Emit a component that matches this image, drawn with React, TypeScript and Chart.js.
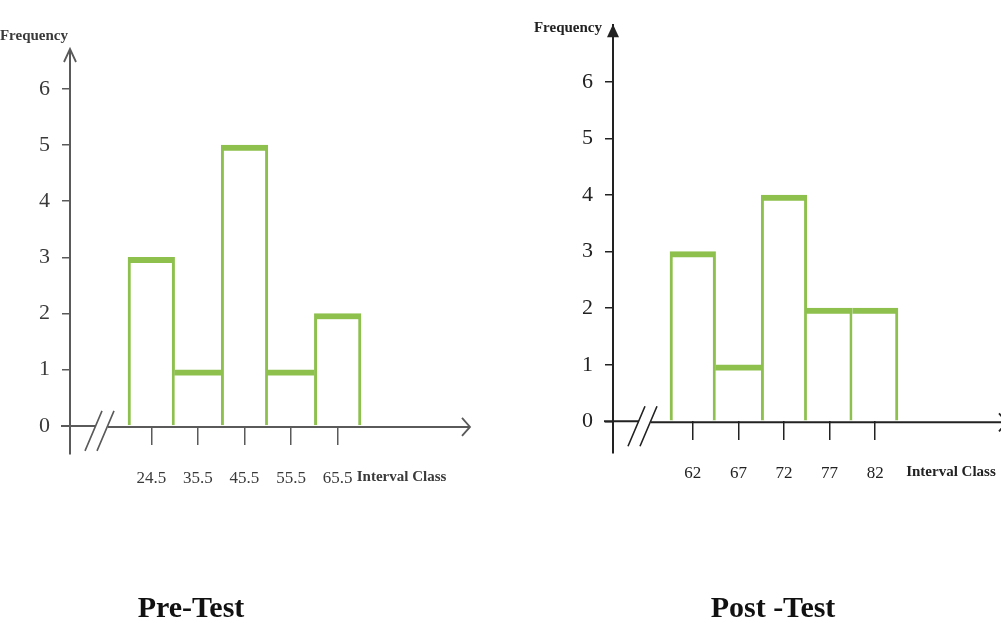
import React, { useEffect, useRef } from 'react';
import { Chart, registerables } from 'chart.js';

Chart.register(...registerables);

// ---- data ----
const preClassMarks = ['24.5', '35.5', '45.5', '55.5', '65.5'];
const preFrequencies = [3, 1, 5, 1, 2];
const postClassMarks = ['62', '67', '72', '77', '82'];
const postFrequencies = [3, 1, 4, 2, 2];
const frequencyTicks = [0, 1, 2, 3, 4, 5, 6];
const xAxisTitle = 'Interval Class';
const yAxisTitle = 'Frequency';
const preTitle = 'Pre-Test';
const postTitle = 'Post -Test';

const GREEN = '#8dc04d';
const FONT = '"Liberation Serif", "Times New Roman", serif';

type Panel = {
  labels: string[];
  values: number[];
  pad: { left: number; top: number; right: number; bottom: number };
  yWidth: number;
  xMin: number;
  xMax: number;
  yMin: number;
  yMax: number;
  axisColor: string;
  textColor: string;
  titleAt: number;
  freqDx: number;
  freqDy: number;
  arrowOver: number;
  arrowFilled: boolean;
};

const panels: Panel[] = [
  {
    labels: preClassMarks,
    values: preFrequencies,
    pad: { left: 0, top: 50, right: 531, bottom: 169 },
    yWidth: 70,
    xMin: -0.745,
    xMax: 7.84,
    yMin: -0.5,
    yMax: 6.69,
    axisColor: '#5a5a5a',
    textColor: '#3a3a3a',
    titleAt: 5.41,
    freqDx: -2,
    freqDy: -14,
    arrowOver: 0,
    arrowFilled: false,
  },
  {
    labels: postClassMarks,
    values: postFrequencies,
    pad: { left: 543, top: 23, right: 0, bottom: 170 },
    yWidth: 70,
    xMin: -0.75,
    xMax: 7.76,
    yMin: -0.56,
    yMax: 7.0,
    axisColor: '#222222',
    textColor: '#222222',
    titleAt: 5.68,
    freqDx: -11,
    freqDy: 3,
    arrowOver: 6,
    arrowFilled: true,
  },
];

function makeConfig(p: Panel): any {
  const extras = {
    id: 'histExtras',
    afterDraw(chart: any) {
      const { ctx, chartArea: ca } = chart;
      const xs = chart.scales.x;
      const ys = chart.scales.y;
      const y0 = ys.getPixelForValue(0);
      ctx.save();
      ctx.strokeStyle = p.axisColor;
      ctx.fillStyle = p.axisColor;
      ctx.lineWidth = 2;
      // x axis line with a break
      ctx.beginPath();
      ctx.moveTo(ca.left - 9, y0);
      ctx.lineTo(ca.left + 26, y0);
      ctx.moveTo(ca.left + 38, y0 + 1);
      ctx.lineTo(ca.right + p.arrowOver, y0 + 1);
      ctx.stroke();
      // break slashes
      ctx.lineWidth = 1.6;
      ctx.beginPath();
      ctx.moveTo(ca.left + 15, y0 + 25);
      ctx.lineTo(ca.left + 32, y0 - 15);
      ctx.moveTo(ca.left + 27, y0 + 25);
      ctx.lineTo(ca.left + 44, y0 - 15);
      ctx.stroke();
      // x arrow
      const ax = ca.right + p.arrowOver;
      ctx.lineWidth = 1.8;
      ctx.beginPath();
      ctx.moveTo(ax - 8, y0 - 8);
      ctx.lineTo(ax, y0 + 1);
      ctx.lineTo(ax - 8, y0 + 10);
      ctx.stroke();
      // y arrow
      ctx.beginPath();
      ctx.moveTo(ca.left - 6, ca.top + 12);
      ctx.lineTo(ca.left, ca.top - 1);
      ctx.lineTo(ca.left + 6, ca.top + 12);
      if (p.arrowFilled) {
        ctx.closePath();
        ctx.fill();
      } else {
        ctx.stroke();
      }
      // texts
      ctx.fillStyle = p.textColor;
      ctx.font = `bold 15px ${FONT}`;
      ctx.textBaseline = 'middle';
      ctx.textAlign = 'right';
      ctx.fillText(yAxisTitle, ca.left + p.freqDx, ca.top + p.freqDy);
      ctx.textAlign = 'left';
      ctx.fillText(xAxisTitle, xs.getPixelForValue(p.titleAt), y0 + 51);
      ctx.restore();
    },
  };

  const vals = p.values;
  const n = vals.length;

  return {
    type: 'bar',
    data: {
      datasets: [
        {
          data: vals.map((v, i) => ({ x: i + 1, y: v })),
          backgroundColor: '#ffffff',
          borderColor: GREEN,
          // shared edges are drawn once, by the taller neighbour
          borderWidth: (c: any) => {
            const i = c.dataIndex;
            const left = i === 0 || vals[i] > vals[i - 1] ? 3 : 0;
            const right = i === n - 1 || vals[i] >= vals[i + 1] ? 3 : 0;
            return { top: 6, left, right, bottom: 0 };
          },
          borderSkipped: false,
          barPercentage: 1,
          categoryPercentage: 1,
        },
      ],
    },
    options: {
      responsive: false,
      animation: false,
      layout: { padding: p.pad },
      plugins: { legend: { display: false }, tooltip: { enabled: false } },
      scales: {
        x: {
          type: 'linear',
          position: { y: 0 },
          offset: false,
          min: p.xMin,
          max: p.xMax,
          afterBuildTicks: (s: any) => {
            s.ticks = p.labels.map((_, i) => ({ value: i + 1 }));
          },
          afterFit: (s: any) => {
            s.height = 0;
          },
          ticks: {
            callback: (v: number) => p.labels[Math.round(v) - 1] ?? '',
            font: { family: FONT, size: 17 },
            color: p.textColor,
            padding: 23,
            autoSkip: false,
            maxRotation: 0,
          },
          grid: {
            offset: false,
            drawOnChartArea: false,
            tickLength: 19,
            color: p.axisColor,
            lineWidth: 1.5,
          },
          border: { display: false },
        },
        y: {
          type: 'linear',
          min: p.yMin,
          max: p.yMax,
          afterBuildTicks: (s: any) => {
            s.ticks = frequencyTicks.map((v) => ({ value: v }));
          },
          afterFit: (s: any) => {
            s.width = p.yWidth;
          },
          ticks: {
            font: { family: FONT, size: 22 },
            color: p.textColor,
            padding: 12,
          },
          grid: { drawOnChartArea: false, tickLength: 8, color: p.axisColor, lineWidth: 1.5 },
          border: { display: true, color: p.axisColor, width: 2 },
        },
      },
    },
    plugins: [extras],
  };
}

function PanelChart({ panel }: { panel: Panel }) {
  const ref = useRef<HTMLCanvasElement | null>(null);
  useEffect(() => {
    if (!ref.current) return;
    const chart = new Chart(ref.current, makeConfig(panel));
    return () => chart.destroy();
  }, [panel]);
  return (
    <canvas
      ref={ref}
      width={1001}
      height={623}
      style={{ position: 'absolute', left: 0, top: 0, width: 1001, height: 623 }}
    />
  );
}

const titleStyle: React.CSSProperties = {
  position: 'absolute',
  top: 589,
  width: 240,
  textAlign: 'center',
  fontFamily: FONT,
  fontWeight: 'bold',
  fontSize: 30,
  lineHeight: '36px',
  color: '#111',
};

export default function App() {
  return (
    <div
      style={{
        position: 'absolute',
        left: 0,
        top: 0,
        width: 1001,
        height: 623,
        background: '#ffffff',
        overflow: 'hidden',
      }}
    >
      <PanelChart panel={panels[0]} />
      <PanelChart panel={panels[1]} />
      <div style={{ ...titleStyle, left: 191 - 120 }}>{preTitle}</div>
      <div style={{ ...titleStyle, left: 773 - 120 }}>{postTitle}</div>
    </div>
  );
}
